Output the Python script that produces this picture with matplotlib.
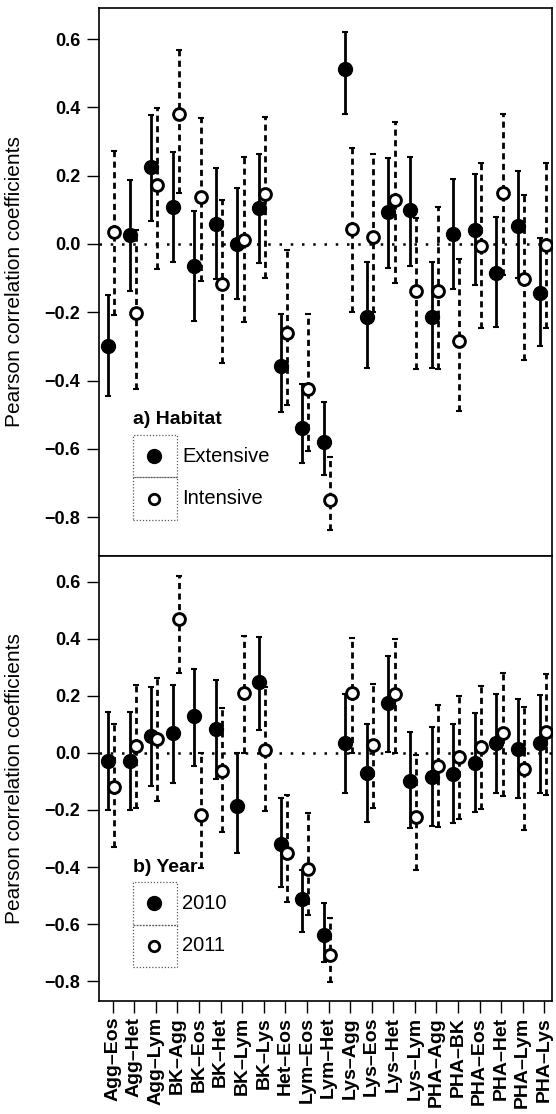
import numpy as np
import matplotlib
matplotlib.use("Agg")
import matplotlib.pyplot as plt
from matplotlib.patches import Rectangle

plt.rcParams['font.family'] = ['Liberation Sans', 'DejaVu Sans']

# pairs of leukocyte / immune measures
pairs = ['Agg–Eos', 'Agg–Het', 'Agg–Lym', 'BK–Agg', 'BK–Eos', 'BK–Het', 'BK–Lym',
         'BK–Lys', 'Het–Eos', 'Lym–Eos', 'Lym–Het', 'Lys–Agg', 'Lys–Eos', 'Lys–Het',
         'Lys–Lym', 'PHA–Agg', 'PHA–BK', 'PHA–Eos', 'PHA–Het', 'PHA–Lym', 'PHA–Lys']

# a) habitat
ext_r  = [-0.300, 0.026, 0.226, 0.109, -0.066, 0.059, -0.001, 0.106, -0.357, -0.538, -0.581,
          0.511, -0.213, 0.093, 0.098, -0.215, 0.028, 0.041, -0.084, 0.053, -0.144]
ext_lo = [-0.445, -0.138, 0.067, -0.054, -0.227, -0.103, -0.162, -0.057, -0.491, -0.642, -0.676,
          0.381, -0.364, -0.071, -0.066, -0.364, -0.133, -0.120, -0.242, -0.100, -0.300]
ext_hi = [-0.150, 0.187, 0.378, 0.270, 0.097, 0.222, 0.163, 0.264, -0.205, -0.411, -0.462,
          0.622, -0.052, 0.251, 0.256, -0.052, 0.190, 0.204, 0.080, 0.215, 0.017]

int_r  = [0.035, -0.203, 0.173, 0.380, 0.136, -0.118, 0.012, 0.146, -0.260, -0.426, -0.750,
          0.045, 0.021, 0.129, -0.138, -0.138, -0.283, -0.006, 0.150, -0.103, -0.004]
int_lo = [-0.208, -0.425, -0.074, 0.150, -0.110, -0.349, -0.230, -0.100, -0.471, -0.606, -0.837,
          -0.200, -0.200, -0.115, -0.367, -0.367, -0.489, -0.247, -0.090, -0.340, -0.247]
int_hi = [0.273, 0.040, 0.397, 0.568, 0.368, 0.129, 0.254, 0.373, -0.018, -0.206, -0.623,
          0.282, 0.264, 0.358, 0.075, 0.109, -0.043, 0.236, 0.380, 0.143, 0.236]

# b) year
y10_r  = [-0.028, -0.027, 0.060, 0.069, 0.130, 0.083, -0.185, 0.250, -0.320, -0.513, -0.640,
          0.034, -0.071, 0.177, -0.097, -0.085, -0.074, -0.034, 0.036, 0.014, 0.034]
y10_lo = [-0.200, -0.200, -0.116, -0.106, -0.046, -0.092, -0.350, 0.081, -0.469, -0.627, -0.732,
          -0.139, -0.241, 0.005, -0.264, -0.256, -0.247, -0.206, -0.139, -0.159, -0.139]
y10_hi = [0.143, 0.145, 0.233, 0.239, 0.295, 0.256, -0.001, 0.406, -0.159, -0.410, -0.525,
          0.207, 0.102, 0.340, 0.075, 0.090, 0.102, 0.141, 0.207, 0.189, 0.204]

y11_r  = [-0.120, 0.025, 0.049, 0.470, -0.218, -0.063, 0.212, 0.011, -0.350, -0.408, -0.709,
          0.212, 0.028, 0.207, -0.223, -0.046, -0.013, 0.022, 0.069, -0.057, 0.075]
y11_lo = [-0.329, -0.194, -0.168, 0.280, -0.404, -0.276, 0.000, -0.204, -0.522, -0.568, -0.802,
          0.000, -0.192, 0.000, -0.410, -0.261, -0.233, -0.198, -0.151, -0.270, -0.147]
y11_hi = [0.100, 0.239, 0.262, 0.621, 0.001, 0.157, 0.410, 0.230, -0.147, -0.212, -0.580,
          0.402, 0.241, 0.399, -0.007, 0.168, 0.200, 0.235, 0.280, 0.163, 0.277]

yticks = [-0.8, -0.6, -0.4, -0.2, 0.0, 0.2, 0.4, 0.6]

fig = plt.figure(figsize=(5.56, 11.14), dpi=100)
ax1 = fig.add_axes([0.17806, 0.50090, 0.81475, 0.49192])
ax2 = fig.add_axes([0.17806, 0.10144, 0.81475, 0.39946])

x = np.arange(1, len(pairs) + 1)


def draw_pair(ax, r1, lo1, hi1, r2, lo2, hi2):
    ax.axhline(0, color='black', lw=1.8, ls=(0, (1, 3.5)), zorder=1)
    r1, lo1, hi1 = map(np.array, (r1, lo1, hi1))
    r2, lo2, hi2 = map(np.array, (r2, lo2, hi2))
    xa = x - 0.22
    xb = x + 0.07
    ax.errorbar(xa, r1, yerr=[r1 - lo1, hi1 - r1], fmt='none', ecolor='black',
                elinewidth=2.0, capsize=2.2, capthick=1.5, zorder=2)
    e2 = ax.errorbar(xb, r2, yerr=[r2 - lo2, hi2 - r2], fmt='none', ecolor='black',
                     elinewidth=2.0, capsize=2.2, capthick=1.5, zorder=2)
    e2[2][0].set_linestyle((0, (2.2, 1.6)))
    ax.plot(xa, r1, 'o', ms=10, mfc='black', mec='black', ls='none', zorder=3)
    ax.plot(xb, r2, 'o', ms=8.5, mfc='white', mec='black', mew=2.1, ls='none', zorder=4)


def draw_key(ax, title, labels, x0, y0):
    bb = ax.get_position()
    W = fig.get_figwidth() * fig.dpi * bb.width
    H = fig.get_figheight() * fig.dpi * bb.height
    row_h, box_w = 42.5, 44
    ax.text(x0, y0 + 15 / H, title, transform=ax.transAxes, fontsize=14,
            fontweight='bold', ha='left', va='center')
    for i, (lab, face) in enumerate(zip(labels, ['black', 'white'])):
        yb = y0 - row_h * (i + 1) / H
        ax.add_patch(Rectangle((x0, yb), box_w / W, row_h / H, transform=ax.transAxes,
                               fill=False, ls=(0, (1, 1.5)), lw=0.9, ec='0.35'))
        ym = yb + row_h / 2 / H
        ax.plot([x0 + 21 / W], [ym], 'o', ms=9 if face == 'black' else 7.5, mfc=face,
                mec='black', mew=2.0, transform=ax.transAxes)
        ax.text(x0 + 49 / W, ym, lab, transform=ax.transAxes, fontsize=14.5,
                ha='left', va='center')


draw_pair(ax1, ext_r, ext_lo, ext_hi, int_r, int_lo, int_hi)
draw_pair(ax2, y10_r, y10_lo, y10_hi, y11_r, y11_lo, y11_hi)

ax1.set_ylim(-0.914, 0.691)
ax2.set_ylim(-0.870, 0.691)

for ax in (ax1, ax2):
    ax.set_xlim(0.365, 21.357)
    ax.set_yticks(yticks)
    ax.set_yticklabels([f'{v:.1f}'.replace('-', '−') for v in yticks],
                       fontsize=13, fontweight='bold')
    ax.tick_params(axis='y', direction='out', length=8.5, width=1, pad=5)
    ax.set_ylabel('Pearson correlation coefficients', fontsize=15)
    ax.yaxis.set_label_coords(-0.165, 0.5)
    for s in ax.spines.values():
        s.set_linewidth(1.2)

ax1.set_xticks([])
ax2.set_xticks(x)
ax2.set_xticklabels(pairs, rotation=90, fontsize=14, fontweight='bold')
ax2.tick_params(axis='x', direction='out', length=8.5, width=1, pad=3)

draw_key(ax1, 'a) Habitat', ['Extensive', 'Intensive'], 0.0751, 0.2208)
draw_key(ax2, 'b) Year', ['2010', '2011'], 0.0751, 0.2674)

fig.savefig('out.png', dpi=100)
